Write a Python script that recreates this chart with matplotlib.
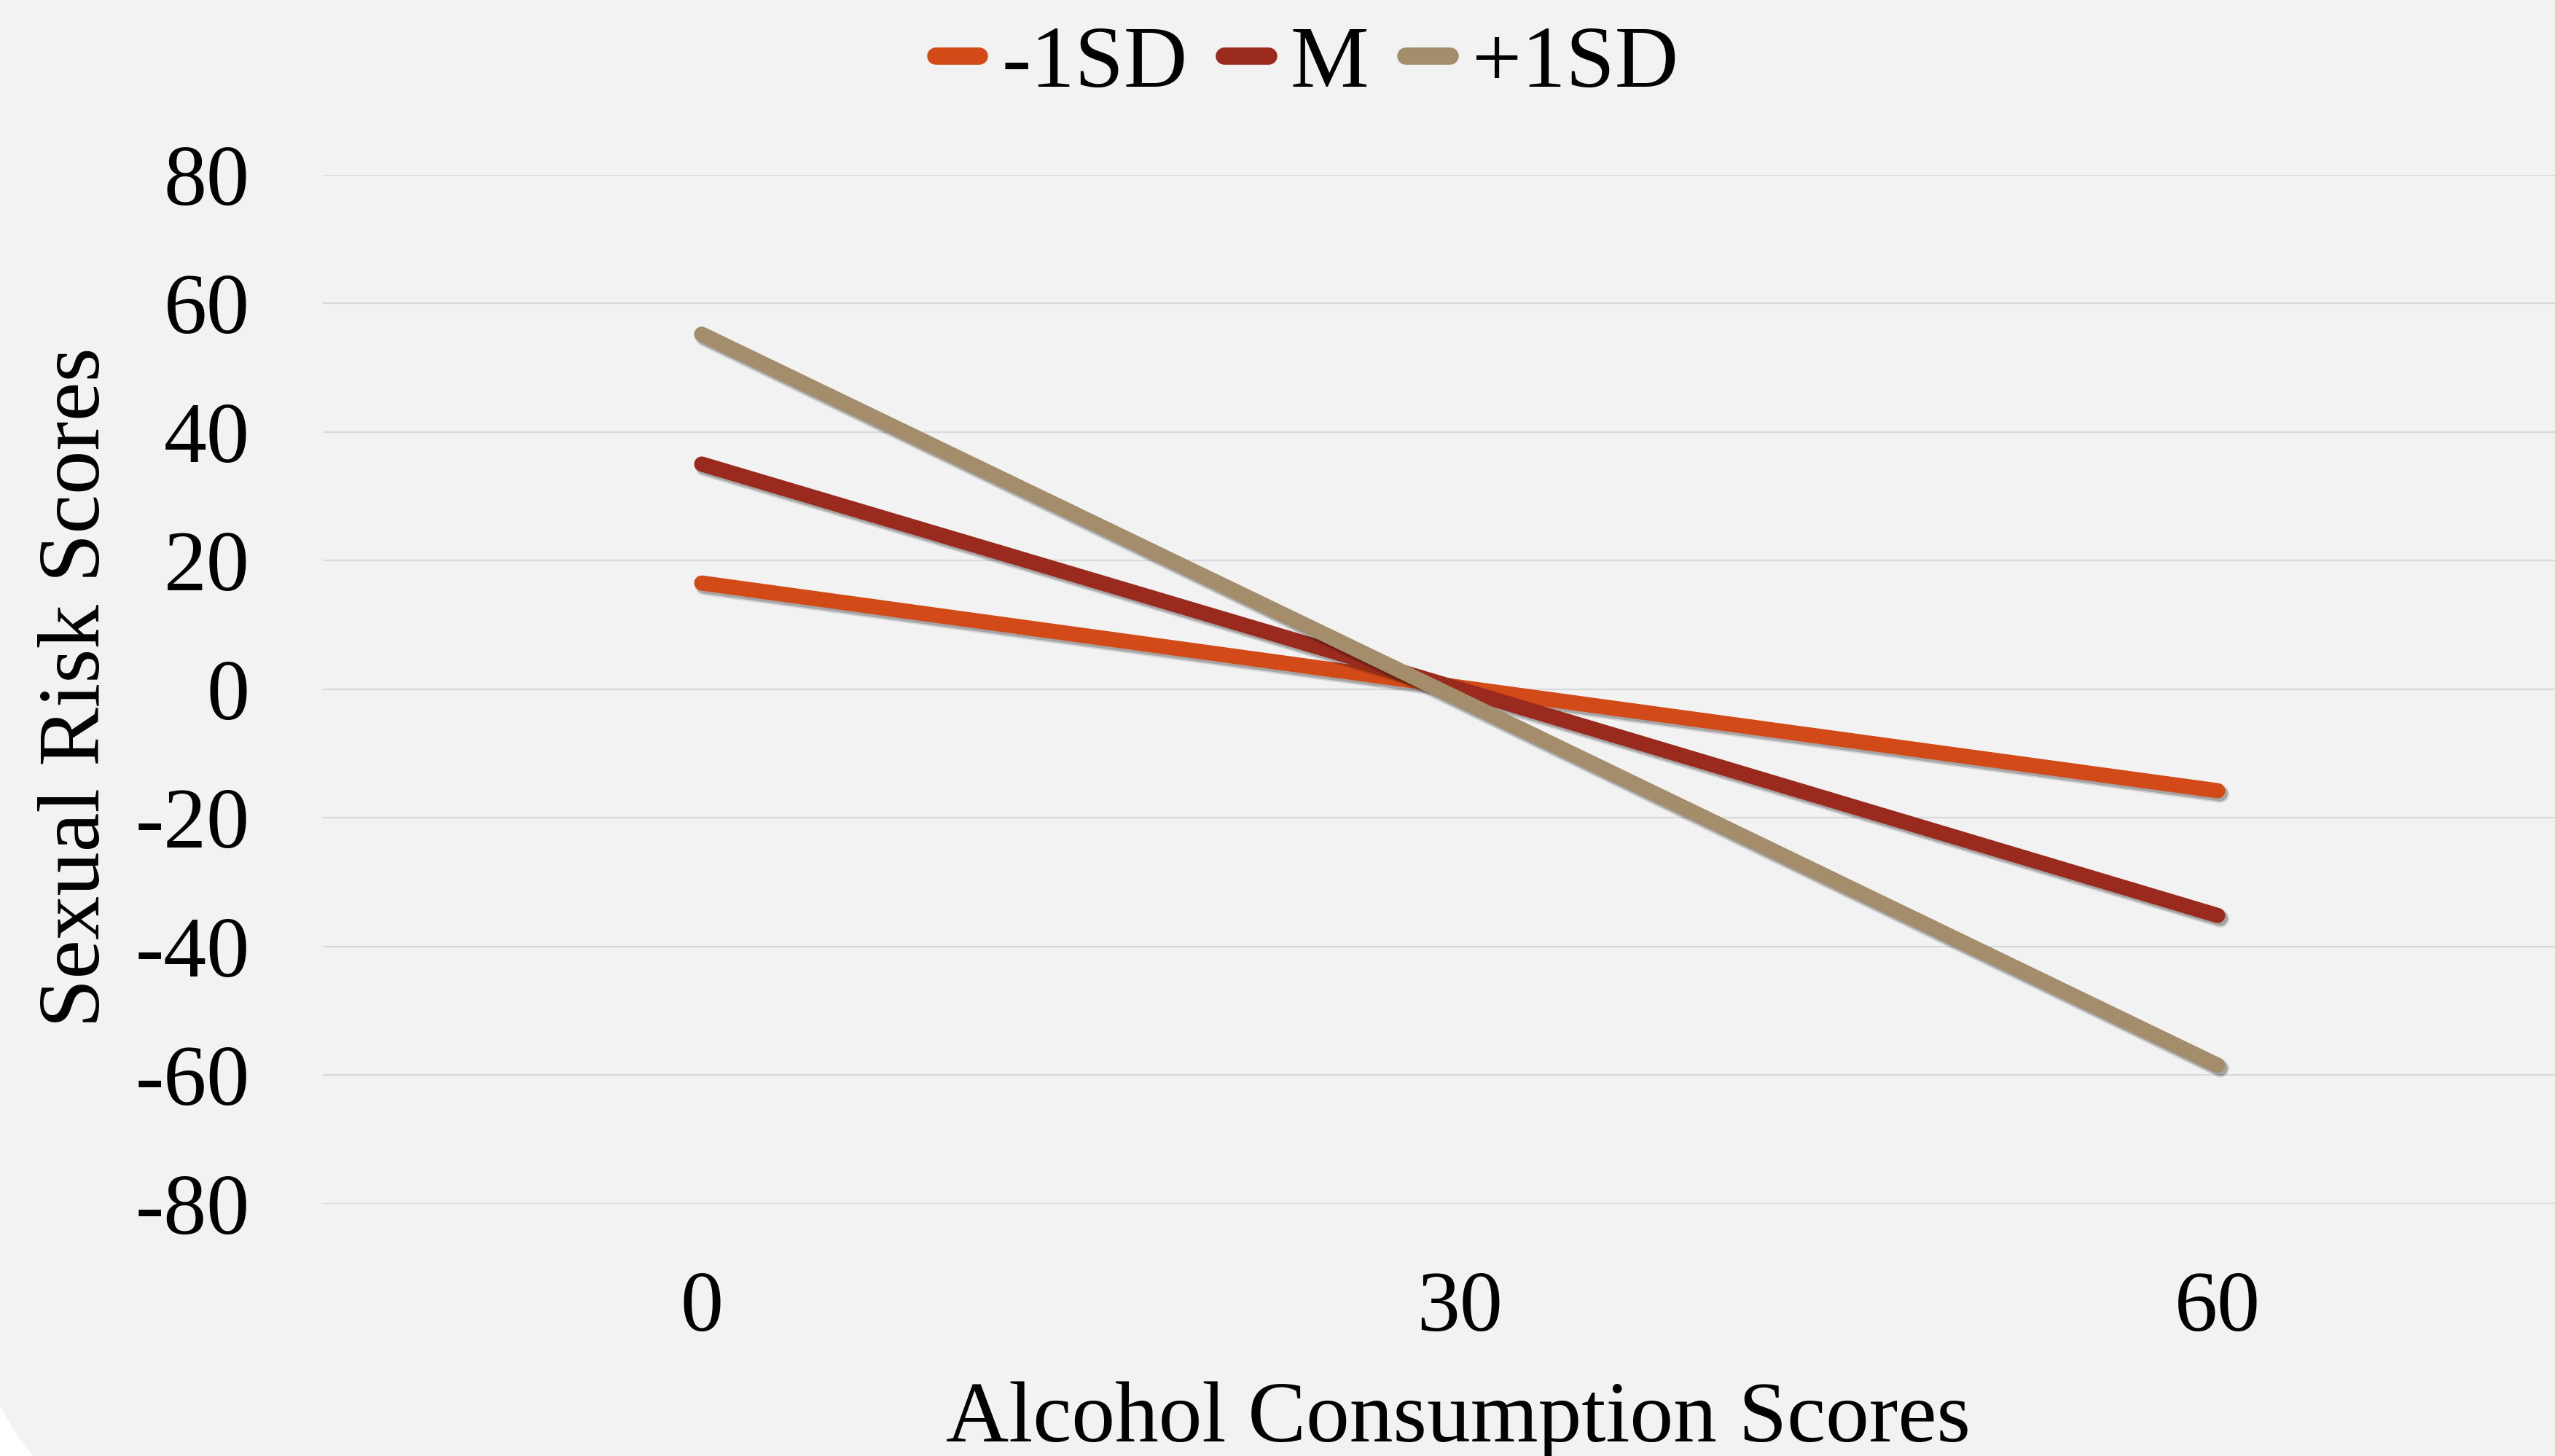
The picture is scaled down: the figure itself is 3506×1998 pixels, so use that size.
import numpy as np
import matplotlib
matplotlib.use("Agg")
from matplotlib import pyplot as plt
from matplotlib.patches import FancyBboxPatch
import matplotlib.patheffects as pe

plt.rcParams['font.family'] = ['Liberation Serif', 'DejaVu Serif']

# data
x_labels = ['0', '30', '60']
low_sd = [16.5, 0.3, -15.8]
mean_vals = [35.0, 0.0, -35.2]
high_sd = [55.2, -1.6, -58.5]
series_names = ['-1SD', 'M', '+1SD']
series_colors = ['#D24A18', '#9A2A1E', '#A38D6A']
y_ticks = [-80, -60, -40, -20, 0, 20, 40, 60, 80]

fig = plt.figure(figsize=(35.06, 19.98), dpi=100, facecolor='white')

# rounded grey chart area (only the bottom-left corner shows)
bg = FancyBboxPatch((-0.49, -1.30), 45, 30,
                    boxstyle="round,pad=0,rounding_size=4.47",
                    transform=fig.dpi_scale_trans,
                    facecolor='#F2F2F2', edgecolor='none', zorder=-10)
fig.add_artist(bg)

ax = fig.add_axes([0.1263, 0.1734, 0.890, 0.7066])
ax.set_facecolor('none')

xs = np.arange(len(x_labels))
shadow = [pe.SimpleLineShadow(offset=(2.5, -3), shadow_color='black', alpha=0.12, linewidth=18),
          pe.SimpleLineShadow(offset=(2.5, -3), shadow_color='black', alpha=0.22, linewidth=15),
          pe.Normal()]
for vals, name, col in zip([low_sd, mean_vals, high_sd], series_names, series_colors):
    ax.plot(xs, vals, color=col, lw=15, solid_capstyle='round', label=name,
            path_effects=shadow, zorder=3)

ax.set_xlim(-0.5, 2.5)
ax.set_ylim(-80, 80)
ax.set_yticks(y_ticks)
ax.set_yticklabels([str(v) for v in y_ticks])
ax.set_xticks(xs)
ax.set_xticklabels(x_labels)
ax.tick_params(axis='both', length=0, labelsize=85)
ax.tick_params(axis='y', pad=72)
ax.tick_params(axis='x', pad=66)
ax.yaxis.grid(True, color='#D9D9D9', lw=1.6)
ax.set_axisbelow(True)
for s in ax.spines.values():
    s.set_visible(False)

fig.text(0.5708, 0.010, 'Alcohol Consumption Scores', fontsize=86,
         ha='center', va='baseline')
fig.text(0.0306, 0.528, 'Sexual Risk Scores', fontsize=87, rotation=90,
         ha='center', va='center')

leg = fig.legend(loc='center', bbox_to_anchor=(0.5115, 0.955), ncol=3,
                 frameon=False, fontsize=87, handlelength=0.5,
                 handletextpad=0.25, columnspacing=0.42)
for h in leg.get_lines():
    h.set_path_effects([])
    h.set_linewidth(17)

fig.savefig('out.png', dpi=100, facecolor=fig.get_facecolor())
